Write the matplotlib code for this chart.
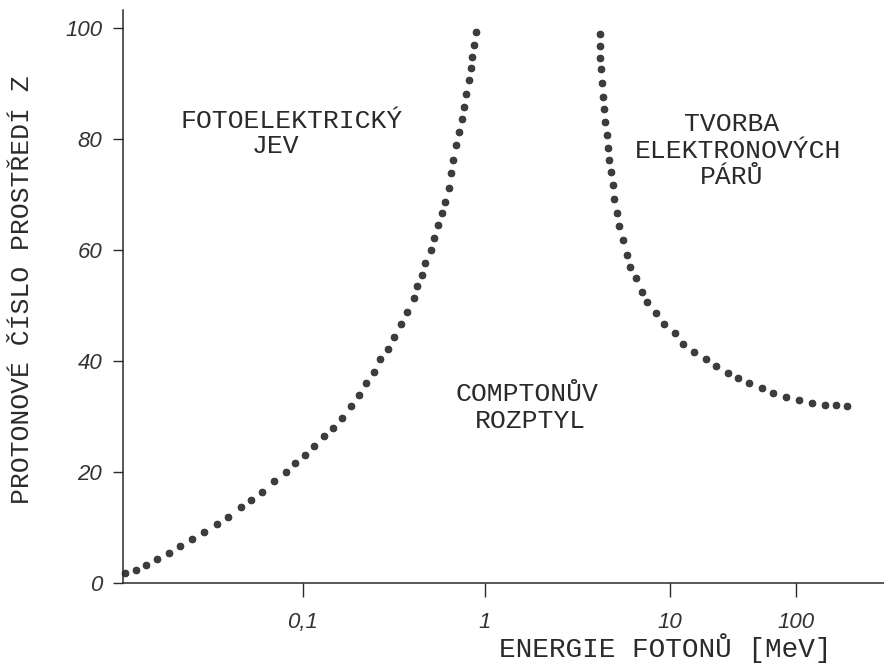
import numpy as np
import matplotlib
matplotlib.use("Agg")
import matplotlib.pyplot as plt
from matplotlib.ticker import FixedLocator, FixedFormatter, NullLocator

# photon energy [MeV] and atomic number Z
photo_energy = [0.0105, 0.0121, 0.0138, 0.0158, 0.0184, 0.0213, 0.0247, 0.0287,
                0.0336, 0.0391, 0.0456, 0.0518, 0.0595, 0.0696, 0.0807, 0.0912,
                0.103, 0.115, 0.131, 0.147, 0.164, 0.183, 0.203, 0.223,
                0.246, 0.266, 0.293, 0.317, 0.347, 0.374, 0.407, 0.425,
                0.451, 0.472, 0.503, 0.526, 0.550, 0.580, 0.601, 0.632,
                0.650, 0.669, 0.695, 0.722, 0.747, 0.773, 0.789, 0.814,
                0.838, 0.849, 0.873, 0.889]
photo_z = [1.75, 2.29, 3.24, 4.32, 5.41, 6.67, 7.87, 9.24,
           10.6, 11.9, 13.6, 15.0, 16.4, 18.4, 20.0, 21.6,
           23.1, 24.6, 26.4, 28.0, 29.8, 31.8, 33.9, 36.0,
           38.0, 40.3, 42.2, 44.3, 46.6, 48.8, 51.4, 53.5,
           55.4, 57.6, 60.0, 62.2, 64.4, 66.7, 68.7, 71.2,
           73.8, 76.1, 78.8, 81.2, 83.6, 85.7, 88.1, 90.6,
           92.7, 94.7, 96.9, 99.3]

pair_energy = [4.18, 4.18, 4.18, 4.22, 4.31, 4.36, 4.40, 4.45,
               4.55, 4.61, 4.68, 4.80, 4.94, 5.00, 5.17, 5.30,
               5.59, 5.84, 6.08, 6.53, 7.03, 7.54, 8.37, 9.32,
               10.9, 12.8, 15.6, 19.2, 23.3, 28.7, 34.7, 42.6,
               53.4, 66.0, 83.3, 105, 134, 171, 208, 253]
pair_z = [98.8, 96.8, 94.6, 92.6, 90.1, 87.6, 85.4, 83.1,
          80.7, 78.4, 76.2, 74.0, 71.7, 69.1, 66.7, 64.3,
          61.8, 59.1, 56.9, 55.0, 52.5, 50.6, 48.7, 46.7,
          45.0, 43.1, 41.6, 40.3, 39.1, 37.8, 36.9, 36.0,
          35.1, 34.3, 33.5, 32.9, 32.5, 32.1, 32.0, 31.8]

x_ticks = [0.1, 1, 10, 100]
x_tick_labels = ["0,1", "1", "10", "100"]
y_ticks = [0, 20, 40, 60, 80, 100]
y_tick_labels = ["0", "20", "40", "60", "80", "100"]

# the hand-drawn log axis has uneven decades, so use a piecewise log scale
DEC = np.array([-4.0, -1.0, 0.0, 1.0, 2.0, 5.0])
POS = np.array([-243.0, 303.0, 485.0, 670.0, 796.0, 1174.0])


def fwd(x):
    x = np.asarray(x, dtype=float)
    with np.errstate(divide="ignore", invalid="ignore"):
        lx = np.log10(np.clip(x, 1e-12, None))
    return np.interp(lx, DEC, POS)


def inv(u):
    return 10 ** np.interp(np.asarray(u, dtype=float), POS, DEC)


mono = "Liberation Mono"
ink = "#2a2a2a"

fig = plt.figure(figsize=(8.84, 6.65), dpi=100)
ax = fig.add_axes([123 / 884, 82 / 665, 1 - 123 / 884, 573 / 665])
ax.set_xscale("function", functions=(fwd, inv))
ax.set_xlim(0.0103, 499)
ax.set_ylim(0, 103.2)

dot = dict(ls="none", marker="o", ms=5.0, color="#3d3d3d", mec="#2a2a2a",
           mew=0.5, clip_on=False)
ax.plot(photo_energy, photo_z, **dot)
ax.plot(pair_energy, pair_z, **dot)

ax.xaxis.set_major_locator(FixedLocator(x_ticks))
ax.xaxis.set_major_formatter(FixedFormatter(x_tick_labels))
ax.xaxis.set_minor_locator(NullLocator())
ax.yaxis.set_major_locator(FixedLocator(y_ticks))
ax.yaxis.set_major_formatter(FixedFormatter(y_tick_labels))

ax.tick_params(axis="x", direction="out", length=10, width=1, pad=11, colors=ink)
ax.tick_params(axis="y", direction="out", length=7, width=1, pad=8, colors=ink)
for lab in ax.get_xticklabels() + ax.get_yticklabels():
    lab.set_fontfamily("Liberation Sans")
    lab.set_fontstyle("italic")
    lab.set_fontsize(16)
    lab.set_color("#333333")

for side in ("top", "right"):
    ax.spines[side].set_visible(False)
for side in ("left", "bottom"):
    ax.spines[side].set_color(ink)
    ax.spines[side].set_linewidth(1.1)

# region labels
txt = dict(family=mono, fontsize=19, color=ink, ha="center", va="center")
fig.text(292 / 884, 1 - 121 / 665, "FOTOELEKTRICKÝ", **txt)
fig.text(276 / 884, 1 - 146 / 665, "JEV", **txt)
fig.text(732 / 884, 1 - 124 / 665, "TVORBA", **txt)
fig.text(738 / 884, 1 - 151 / 665, "ELEKTRONOVÝCH", **txt)
fig.text(732 / 884, 1 - 177 / 665, "PÁRŮ", **txt)
fig.text(527 / 884, 1 - 394 / 665, "COMPTONŮV", **txt)
fig.text(530 / 884, 1 - 421 / 665, "ROZPTYL", **txt)

fig.text(665 / 884, 1 - 648 / 665, "ENERGIE FOTONŮ [MeV]",
         **{**txt, "fontsize": 20})
fig.text(22 / 884, 1 - 290 / 665, "PROTONOVÉ ČÍSLO PROSTŘEDÍ Z",
         rotation=90, **txt)

fig.savefig("out.png", dpi=100)
